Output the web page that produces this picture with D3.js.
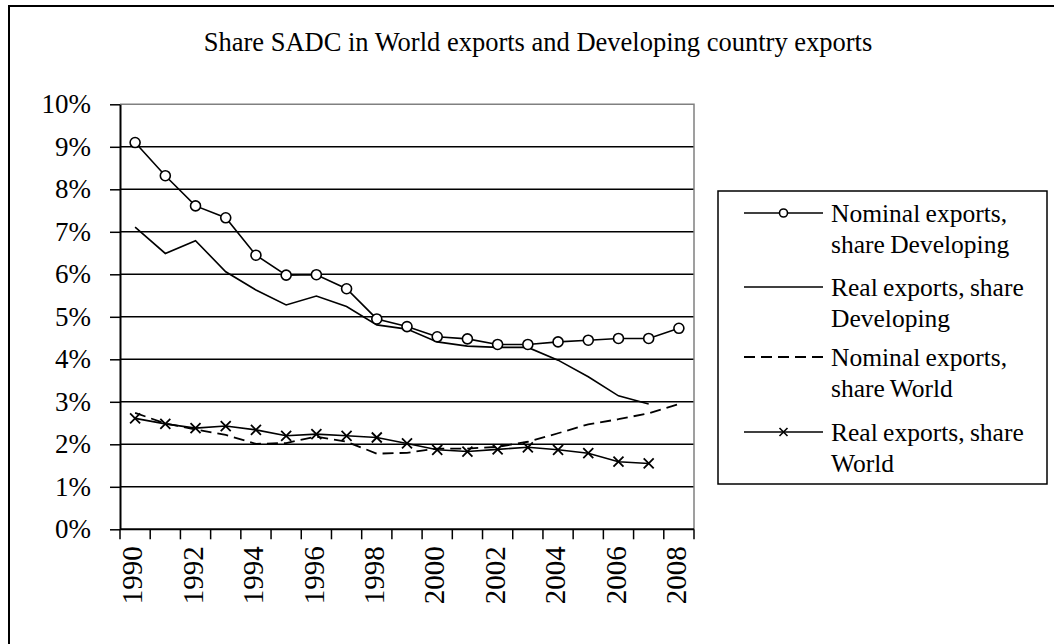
<!DOCTYPE html>
<meta charset="utf-8">
<style>
body{ margin: 0px; background: #fff; }
svg{ display: block; }
</style>
<body></body>
<script src="https://cdn.jsdelivr.net/npm/d3@7"></script>
<script>

var years = [1990,1991,1992,1993,1994,1995,1996,1997,1998,1999,2000,2001,2002,2003,2004,2005,2006,2007,2008]
var yTicks = [0,1,2,3,4,5,6,7,8,9,10]
var xLabels = [1990,1992,1994,1996,1998,2000,2002,2004,2006,2008]

// shares in percent
var nominalDev   = [9.10,8.32,7.61,7.33,6.45,5.98,5.99,5.66,4.95,4.77,4.53,4.48,4.35,4.35,4.41,4.45,4.49,4.49,4.73]
var realDev      = [7.11,6.49,6.79,6.06,5.63,5.28,5.49,5.24,4.81,4.71,4.41,4.31,4.28,4.28,3.98,3.59,3.14,2.95,null]
var nominalWorld = [2.74,2.49,2.35,2.22,2.01,2.03,2.18,2.06,1.78,1.80,1.90,1.90,1.94,2.06,2.26,2.47,2.59,2.73,2.95]
var realWorld    = [2.61,2.48,2.38,2.43,2.34,2.20,2.24,2.20,2.16,2.02,1.87,1.83,1.88,1.93,1.87,1.79,1.59,1.55,null]

var seriesNames = [
	['Nominal exports,', 'share Developing'],
	['Real exports, share', 'Developing'],
	['Nominal exports,', 'share World'],
	['Real exports, share', 'World']
]

var width = 1054, height = 644,
		serif = "'Liberation Serif', 'Times New Roman', Times, serif"

var svg = d3.select('body').append('svg')
	.attr('width', width).attr('height', height)
	.style('font-family', serif)

// outer chart border (cropped on right/bottom)
svg.append('path')
	.attr('d', 'M9,' + height + 'V6H' + width)
	.attr('fill', 'none').attr('stroke', '#000').attr('stroke-width', 2)

svg.append('text')
	.attr('x', 538).attr('y', 51)
	.attr('text-anchor', 'middle')
	.style('font-family', serif)
	.style('font-size', '26.5px')
	.text('Share SADC in World exports and Developing country exports')

var x = d3.scaleBand().domain(years).range([120, 694]).padding(0)
var y = d3.scaleLinear().domain([0, 10]).range([529.3, 104.3])
var cx = function(i){ return x(years[i]) + x.bandwidth()/2 }

// gridlines
svg.append('g').selectAll('line')
	.data(yTicks.filter(function(d){ return d > 0 && d < 10 }))
	.enter().append('line')
		.attr('x1', 120).attr('x2', 694)
		.attr('y1', function(d){ return y(d) }).attr('y2', function(d){ return y(d) })
		.attr('stroke', '#000').attr('stroke-width', 1.5)

// plot area border (top + right)
svg.append('path')
	.attr('d', 'M120,' + y(10) + 'H694V' + y(0))
	.attr('fill', 'none').attr('stroke', '#808080').attr('stroke-width', 1.5)

// y axis
var yAxis = d3.axisLeft(y)
	.tickValues(yTicks)
	.tickFormat(function(d){ return d + '%' })
	.tickSize(10).tickSizeOuter(0).tickPadding(19)

var ya = svg.append('g').attr('transform', 'translate(120,0)').call(yAxis)
ya.attr('font-family', null).attr('font-size', null)
ya.selectAll('line').attr('stroke', '#000').attr('stroke-width', 1.5)
ya.select('.domain').attr('stroke', '#000').attr('stroke-width', 2)
ya.selectAll('text')
	.style('font-family', serif)
	.style('font-size', '27px')

// x axis
var xa = svg.append('g')
xa.append('line')
	.attr('x1', 120).attr('x2', 694).attr('y1', y(0)).attr('y2', y(0))
	.attr('stroke', '#000').attr('stroke-width', 2)
xa.selectAll('line.tick')
	.data(years.map(function(d){ return x(d) }).concat([694]))
	.enter().append('line').attr('class', 'tick')
		.attr('x1', function(d){ return d }).attr('x2', function(d){ return d })
		.attr('y1', y(0)).attr('y2', y(0) + 10)
		.attr('stroke', '#000').attr('stroke-width', 1.5)
xa.selectAll('text')
	.data(xLabels)
	.enter().append('text')
		.attr('transform', function(d){
			return 'translate(' + (x(d) + x.bandwidth()/2 - 3) + ',' + (y(0) + 17) + ') rotate(-90)' })
		.attr('text-anchor', 'end')
		.attr('dy', '0.35em')
		.style('font-family', serif)
		.style('font-size', '29px')
		.text(function(d){ return d })

// lines
function lineFor(vals){
	return d3.line()
		.defined(function(d){ return d != null })
		.x(function(d, i){ return cx(i) })
		.y(function(d){ return y(d) })(vals)
}

var plot = svg.append('g')
plot.append('path').attr('d', lineFor(nominalWorld))
	.attr('fill', 'none').attr('stroke', '#000').attr('stroke-width', 1.8)
	.attr('stroke-dasharray', '11,6')
plot.append('path').attr('d', lineFor(realDev))
	.attr('fill', 'none').attr('stroke', '#000').attr('stroke-width', 1.6)
plot.append('path').attr('d', lineFor(nominalDev))
	.attr('fill', 'none').attr('stroke', '#000').attr('stroke-width', 1.6)
plot.append('path').attr('d', lineFor(realWorld))
	.attr('fill', 'none').attr('stroke', '#000').attr('stroke-width', 1.6)

plot.selectAll('circle')
	.data(nominalDev)
	.enter().append('circle')
		.attr('cx', function(d, i){ return cx(i) })
		.attr('cy', function(d){ return y(d) })
		.attr('r', 5)
		.attr('fill', '#fff').attr('stroke', '#000').attr('stroke-width', 1.6)

function cross(px, py, s){
	return 'M' + (px-s) + ',' + (py-s) + 'L' + (px+s) + ',' + (py+s) +
		'M' + (px-s) + ',' + (py+s) + 'L' + (px+s) + ',' + (py-s)
}

plot.selectAll('path.cross')
	.data(realWorld.filter(function(d){ return d != null }))
	.enter().append('path').attr('class', 'cross')
		.attr('d', function(d, i){ return cross(cx(i), y(d), 5) })
		.attr('stroke', '#000').attr('stroke-width', 1.8)

// legend
var lg = svg.append('g')
lg.append('rect')
	.attr('x', 718).attr('y', 191).attr('width', 329).attr('height', 293)
	.attr('fill', '#fff').attr('stroke', '#000').attr('stroke-width', 1.5)

var legendY = [213, 287, 357, 432]
seriesNames.forEach(function(lines, k){
	var ly = legendY[k]
	var g = lg.append('g')
	var sample = g.append('line')
		.attr('x1', 744).attr('x2', 823).attr('y1', ly).attr('y2', ly)
		.attr('stroke', '#000').attr('stroke-width', k == 2 ? 2.2 : 1.6)
	if (k == 2) sample.attr('stroke-dasharray', '11,6')
	if (k == 0) g.append('circle').attr('cx', 783.5).attr('cy', ly).attr('r', 4)
		.attr('fill', '#fff').attr('stroke', '#000').attr('stroke-width', 1.6)
	if (k == 3) g.append('path').attr('d', cross(783.5, ly, 4))
		.attr('stroke', '#000').attr('stroke-width', 1.6)
	lines.forEach(function(t, j){
		g.append('text')
			.attr('x', 831).attr('y', ly + 9 + j*30.5)
			.style('font-family', serif)
			.style('font-size', '25.5px')
			.style('word-spacing', '-1px')
			.text(t)
	})
})

</script>
